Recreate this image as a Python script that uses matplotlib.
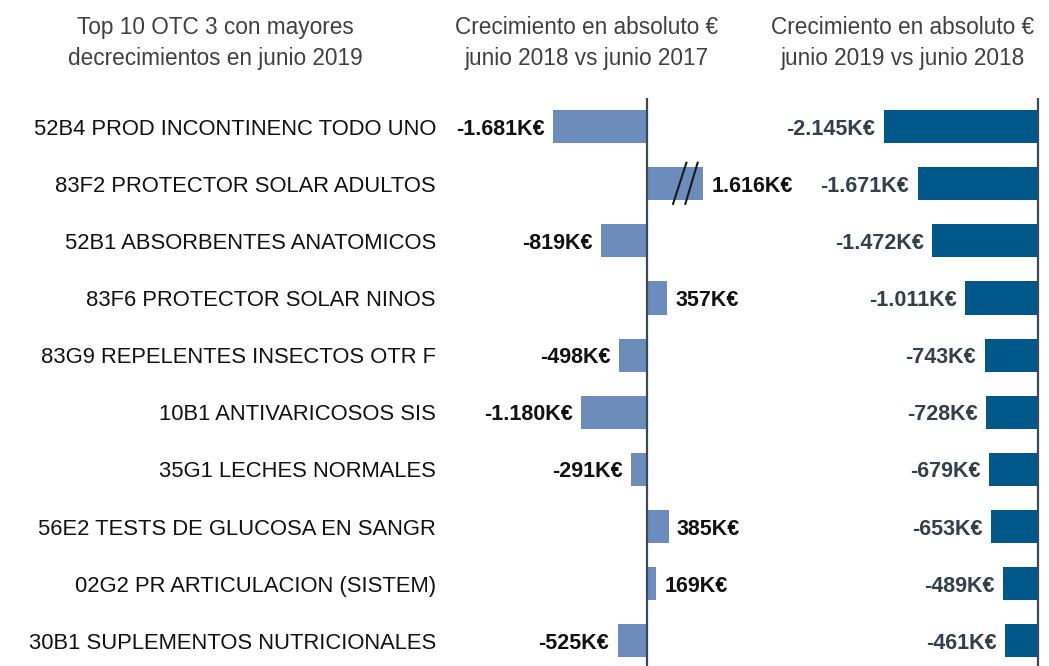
import matplotlib
matplotlib.use("Agg")
import matplotlib.pyplot as plt
import matplotlib.transforms as mtransforms

# Data
categories = [
    "52B4 PROD INCONTINENC TODO UNO",
    "83F2 PROTECTOR SOLAR ADULTOS",
    "52B1 ABSORBENTES ANATOMICOS",
    "83F6 PROTECTOR SOLAR NINOS",
    "83G9 REPELENTES INSECTOS OTR F",
    "10B1 ANTIVARICOSOS SIS",
    "35G1 LECHES NORMALES",
    "56E2 TESTS DE GLUCOSA EN SANGR",
    "02G2 PR ARTICULACION (SISTEM)",
    "30B1 SUPLEMENTOS NUTRICIONALES",
]
crec_18_17 = [-1681, 1616, -819, 357, -498, -1180, -291, 385, 169, -525]
crec_19_18 = [-2145, -1671, -1472, -1011, -743, -728, -679, -653, -489, -461]
break_at = 1000  # bars longer than this are drawn cut

titles = [
    "Top 10 OTC 3 con mayores\ndecrecimientos en junio 2019",
    "Crecimiento en absoluto €\njunio 2018 vs junio 2017",
    "Crecimiento en absoluto €\njunio 2019 vs junio 2018",
]

plt.rcParams['font.family'] = ['Liberation Sans', 'DejaVu Sans']

color_left = '#6c8cbb'
color_right = '#00578a'
axis_color = '#3a4a58'


def fmt(v):
    return f"{v:,}".replace(',', '.') + "K€"


fig = plt.figure(figsize=(10.49, 6.66), dpi=100)
top = 1 - 98 / 666
ax1 = fig.add_axes([440 / 1049, 0, 300 / 1049, top])
ax2 = fig.add_axes([760 / 1049, 0, 285 / 1049, top])

y = list(range(len(categories)))
bar_h = 0.58

# left panel (with cut bars)
shown = [v if abs(v) <= break_at else (break_at if v > 0 else v) for v in crec_18_17]
ax1.barh(y, shown, height=bar_h, color=color_left)
for i, (v, s) in enumerate(zip(crec_18_17, shown)):
    off = 6 if v > 0 else -6
    ax1.annotate(fmt(v), (s, i), xytext=(off, 0), textcoords='offset points',
                 ha='left' if v > 0 else 'right', va='center_baseline',
                 fontsize=15.5, fontweight='bold', color='#111111')
    if v > break_at:
        for x0, x1 in [(0.46, 0.71), (0.68, 0.91)]:
            ax1.plot([x0 * break_at, x1 * break_at], [i + 0.37, i - 0.385],
                     color='#1a1a1a', lw=1.5, solid_capstyle='butt')
ax1.set_xlim(-3696, 1661)

# right panel
ax2.barh(y, crec_19_18, height=bar_h, color=color_right)
for i, v in enumerate(crec_19_18):
    ax2.annotate(fmt(v), (v, i), xytext=(-6, 0), textcoords='offset points',
                 ha='right', va='center_baseline', fontsize=15.5,
                 fontweight='bold', color='#333f4b')
ax2.set_xlim(-3861, 97)

for ax in (ax1, ax2):
    ax.set_ylim(9.44, -0.5)
    ax.axvline(0, color=axis_color, lw=1.6)
    ax.axis('off')

# category labels
trans = mtransforms.blended_transform_factory(fig.transFigure, ax1.transData)
for i, c in enumerate(categories):
    fig.text(436 / 1049, i, c, transform=trans, ha='right',
             va='center_baseline', fontsize=15.8, color='#111111')

# titles
for xc, t in zip([215, 587, 903], titles):
    fig.text(xc / 1049, 1 - 43 / 666, t, ha='center', va='center',
             fontsize=16.3, color='#404040', linespacing=1.4)

plt.savefig('out.png', dpi=100)
